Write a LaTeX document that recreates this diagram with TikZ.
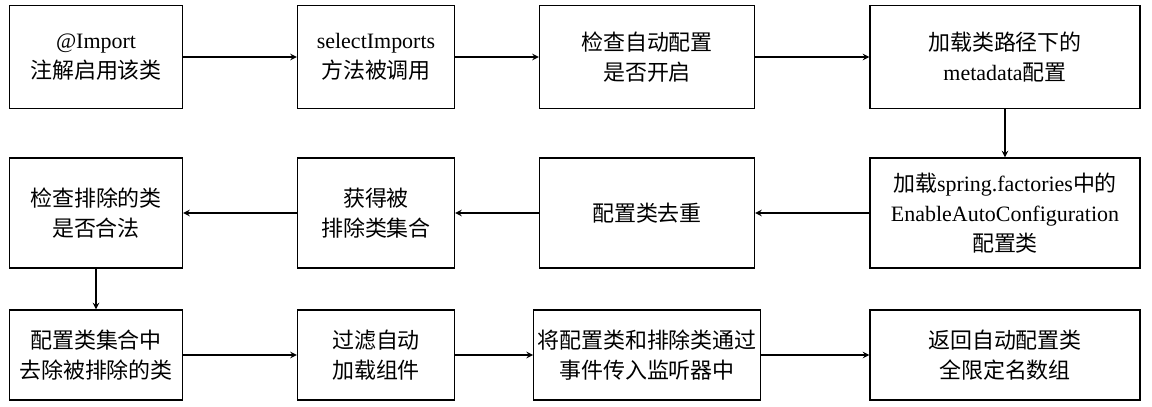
\documentclass[tikz,border=0pt]{standalone}
\usepackage{fontspec}
\setmainfont{Liberation Serif}
\newfontfamily\cjk{Noto Sans CJK SC}
\usetikzlibrary{arrows}

\begin{document}
\begin{tikzpicture}[x=0.02cm,y=-0.02cm,
        stepbox/.style={rectangle, draw, line width=0.7pt, align=center,
            font=\fontsize{12.5}{17}\selectfont, inner sep=2pt},
        flow/.style={-stealth, line width=0.7pt}]

    \useasboundingbox (0,0) rectangle (1152,406);

    % first row
    \node [stepbox,minimum width=3.46cm,minimum height=2.06cm] at (96,57) (imp) {@Import\\{\cjk 注解启用该类}};
    \node [stepbox,minimum width=3.14cm,minimum height=2.06cm] at (376,57) (sel) {selectImports\\{\cjk 方法被调用}};
    \node [stepbox,minimum width=4.3cm,minimum height=2.06cm] at (647,57) (chk) {\cjk 检查自动配置\\\cjk 是否开启};
    \node [stepbox,minimum width=5.4cm,minimum height=2.06cm] at (1005,57) (meta) {{\cjk 加载类路径下的}\\metadata{\cjk 配置}};

    % second row
    \node [stepbox,minimum width=3.46cm,minimum height=2.2cm] at (96,213) (valid) {\cjk 检查排除的类\\\cjk 是否合法};
    \node [stepbox,minimum width=3.14cm,minimum height=2.2cm] at (376,213) (excl) {\cjk 获得被\\\cjk 排除类集合};
    \node [stepbox,minimum width=4.3cm,minimum height=2.2cm] at (647,213) (dedup) {\cjk 配置类去重};
    \node [stepbox,minimum width=5.4cm,minimum height=2.2cm] at (1005,213) (fact) {{\cjk 加载}spring.factories{\cjk 中的}\\EnableAutoConfiguration\\{\cjk 配置类}};

    % third row
    \node [stepbox,minimum width=3.46cm,minimum height=1.8cm] at (96,355) (rem) {\cjk 配置类集合中\\\cjk 去除被排除的类};
    \node [stepbox,minimum width=3.14cm,minimum height=1.8cm] at (376,355) (filt) {\cjk 过滤自动\\\cjk 加载组件};
    \node [stepbox,minimum width=4.3cm,minimum height=1.8cm] at (647,355) (evt) {\cjk 将配置类和排除类通过\\\cjk 事件传入监听器中};
    \node [stepbox,minimum width=5.4cm,minimum height=1.8cm] at (1005,355) (ret) {\cjk 返回自动配置类\\\cjk 全限定名数组};

    \draw [flow] (imp) -- (sel);
    \draw [flow] (sel) -- (chk);
    \draw [flow] (chk) -- (meta);
    \draw [flow] (meta) -- (fact);
    \draw [flow] (fact) -- (dedup);
    \draw [flow] (dedup) -- (excl);
    \draw [flow] (excl) -- (valid);
    \draw [flow] (valid) -- (rem);
    \draw [flow] (rem) -- (filt);
    \draw [flow] (filt) -- (evt);
    \draw [flow] (evt) -- (ret);
\end{tikzpicture}
\end{document}
